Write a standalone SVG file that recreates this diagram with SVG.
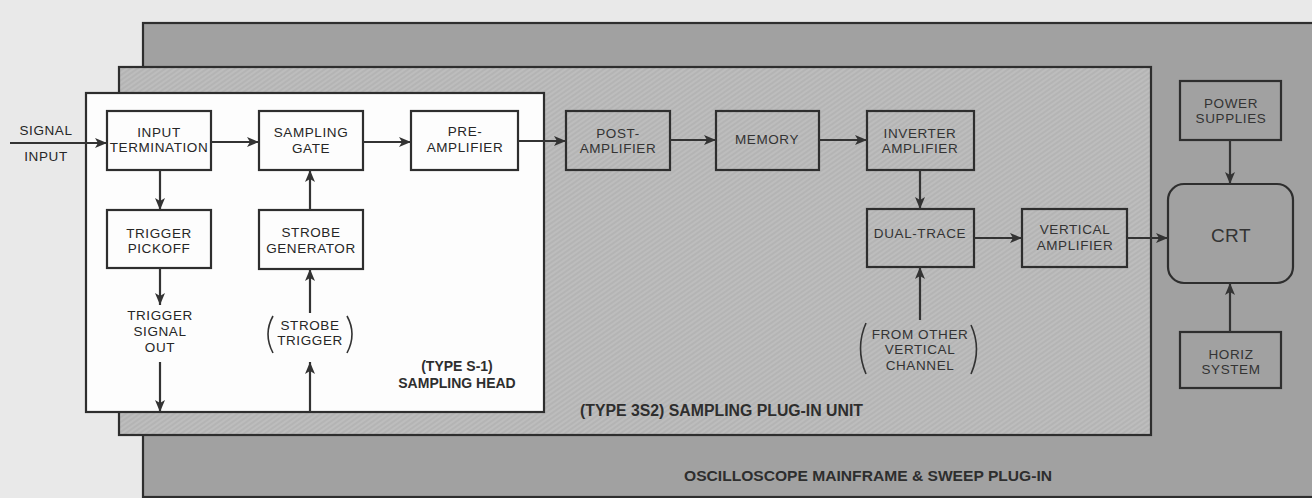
<svg xmlns="http://www.w3.org/2000/svg" width="1312" height="498" viewBox="0 0 1312 498">
<style>
.t{font-family:"Liberation Sans",Arial,sans-serif;font-size:13.5px;letter-spacing:0.6px;text-anchor:middle;fill:#262626}
.g{fill:#333333}
.box{fill:none;stroke:#2e2e2e;stroke-width:2.2}
.wbox{fill:#fdfdfd;stroke:#2e2e2e;stroke-width:2.2}
.c{stroke:#333;stroke-width:2.2;fill:none;marker-end:url(#ah)}
.p{stroke:#333;stroke-width:1.6;fill:none}
.lbl{font-family:"Liberation Sans",Arial,sans-serif;font-weight:bold;fill:#2e2e2e}
</style>
<defs>
<marker id="ah" markerUnits="userSpaceOnUse" markerWidth="12" markerHeight="10" viewBox="0 0 12 10" refX="12" refY="5" orient="auto">
<path d="M0,0 L12,5 L0,10 L3,5 z" fill="#333"/>
</marker>
<pattern id="hatch" width="4" height="4" patternUnits="userSpaceOnUse" patternTransform="rotate(-35)">
<rect width="4" height="4" fill="#b4b4b4"/>
<line x1="0" y1="1" x2="4" y2="1" stroke="#c4c4c4" stroke-width="1.2"/>
</pattern>
</defs>
<rect x="0" y="0" width="1312" height="498" fill="#e9e9e9"/>
<g id="mainframe">
<rect x="143" y="23" width="1180" height="474" fill="#a1a1a1" stroke="#2e2e2e" stroke-width="2.2"/>
<text class="lbl" x="868" y="481" font-size="14" text-anchor="middle" textLength="368" lengthAdjust="spacingAndGlyphs">OSCILLOSCOPE MAINFRAME &amp; SWEEP PLUG-IN</text>
</g>
<g id="plugin">
<rect x="119" y="67" width="1032" height="368" fill="url(#hatch)" stroke="#2e2e2e" stroke-width="2.2"/>
<text class="lbl" x="580" y="416" font-size="16" textLength="283" lengthAdjust="spacingAndGlyphs">(TYPE 3S2) SAMPLING PLUG-IN UNIT</text>
</g>
<g id="sampling-head">
<rect class="wbox" x="86" y="93" width="458" height="319"/>
<text class="lbl" x="457" y="371" font-size="14" text-anchor="middle">(TYPE S-1)</text>
<text class="lbl" x="457" y="388" font-size="14" text-anchor="middle">SAMPLING HEAD</text>
</g>
<g id="signal-input">
<text class="t" x="46" y="135">SIGNAL</text>
<text class="t" x="46" y="161">INPUT</text>
</g>
<g id="input-termination">
<rect class="box" x="107" y="111" width="104" height="59"/>
<text class="t" x="159" y="137">INPUT</text>
<text class="t" x="159" y="152">TERMINATION</text>
</g>
<g id="sampling-gate">
<rect class="box" x="259" y="111" width="104" height="59"/>
<text class="t" x="311" y="137">SAMPLING</text>
<text class="t" x="311" y="153">GATE</text>
</g>
<g id="pre-amplifier">
<rect class="box" x="411" y="111" width="107" height="59"/>
<text class="t" x="465" y="136">PRE-</text>
<text class="t" x="465" y="152">AMPLIFIER</text>
</g>
<g id="trigger-pickoff">
<rect class="box" x="107" y="210" width="104" height="58"/>
<text class="t" x="159" y="238">TRIGGER</text>
<text class="t" x="159" y="253">PICKOFF</text>
</g>
<g id="trigger-signal-out">
<text class="t" x="160" y="320">TRIGGER</text>
<text class="t" x="160" y="336">SIGNAL</text>
<text class="t" x="160" y="352">OUT</text>
</g>
<g id="strobe-generator">
<rect class="box" x="259" y="210" width="104" height="59"/>
<text class="t" x="311" y="237">STROBE</text>
<text class="t" x="311" y="253">GENERATOR</text>
</g>
<g id="strobe-trigger">
<text class="t" x="310" y="330">STROBE</text>
<text class="t" x="310" y="345">TRIGGER</text>
<path class="p" d="M273,316 Q263,334 273,353"/>
<path class="p" d="M347,316 Q357,334 347,353"/>
</g>
<g id="post-amplifier">
<rect class="box" x="566" y="111" width="104" height="59"/>
<text class="t g" x="618" y="138">POST-</text>
<text class="t g" x="618" y="153">AMPLIFIER</text>
</g>
<g id="memory">
<rect class="box" x="716" y="111" width="103" height="59"/>
<text class="t g" x="767" y="144">MEMORY</text>
</g>
<g id="inverter-amplifier">
<rect class="box" x="867" y="111" width="107" height="59"/>
<text class="t g" x="920" y="138">INVERTER</text>
<text class="t g" x="920" y="153">AMPLIFIER</text>
</g>
<g id="dual-trace">
<rect class="box" x="867" y="209" width="107" height="58"/>
<text class="t g" x="920" y="238">DUAL-TRACE</text>
</g>
<g id="from-other-channel">
<text class="t g" x="920" y="339">FROM OTHER</text>
<text class="t g" x="920" y="354">VERTICAL</text>
<text class="t g" x="920" y="370">CHANNEL</text>
<path class="p" d="M866,323 Q855,348 866,374"/>
<path class="p" d="M971,325 Q982,349 971,374"/>
</g>
<g id="vertical-amplifier">
<rect class="box" x="1022" y="209" width="105" height="58"/>
<text class="t g" x="1075" y="234">VERTICAL</text>
<text class="t g" x="1075" y="250">AMPLIFIER</text>
</g>
<g id="power-supplies">
<rect class="box" x="1180" y="81" width="101" height="59"/>
<text class="t g" x="1231" y="108">POWER</text>
<text class="t g" x="1231" y="123">SUPPLIES</text>
</g>
<g id="crt">
<rect class="box" x="1168" y="184" width="125" height="99" rx="16" ry="16"/>
<text class="t g" x="1231" y="242" style="font-size:19px;letter-spacing:0.5px">CRT</text>
</g>
<g id="horiz-system">
<rect class="box" x="1180" y="332" width="101" height="56"/>
<text class="t g" x="1231" y="359">HORIZ</text>
<text class="t g" x="1231" y="374">SYSTEM</text>
</g>
<g id="connectors">
<line class="c" x1="10" y1="143" x2="107" y2="143"/>
<line class="c" x1="211" y1="142" x2="259" y2="142"/>
<line class="c" x1="363" y1="142" x2="411" y2="142"/>
<line class="c" x1="518" y1="141" x2="566" y2="141"/>
<line class="c" x1="670" y1="140" x2="716" y2="140"/>
<line class="c" x1="819" y1="140" x2="867" y2="140"/>
<line class="c" x1="160" y1="170" x2="160" y2="210"/>
<line class="c" x1="160" y1="268" x2="160" y2="305"/>
<line class="c" x1="160" y1="362" x2="160" y2="412"/>
<line class="c" x1="310" y1="210" x2="310" y2="170"/>
<line class="c" x1="310" y1="313" x2="310" y2="269"/>
<line class="c" x1="310" y1="412" x2="310" y2="362"/>
<line class="c" x1="920" y1="170" x2="920" y2="209"/>
<line class="c" x1="920" y1="320" x2="920" y2="267"/>
<line class="c" x1="974" y1="238" x2="1022" y2="238"/>
<line class="c" x1="1127" y1="238" x2="1168" y2="238"/>
<line class="c" x1="1230" y1="140" x2="1230" y2="184"/>
<line class="c" x1="1230" y1="332" x2="1230" y2="283"/>
</g>
</svg>
